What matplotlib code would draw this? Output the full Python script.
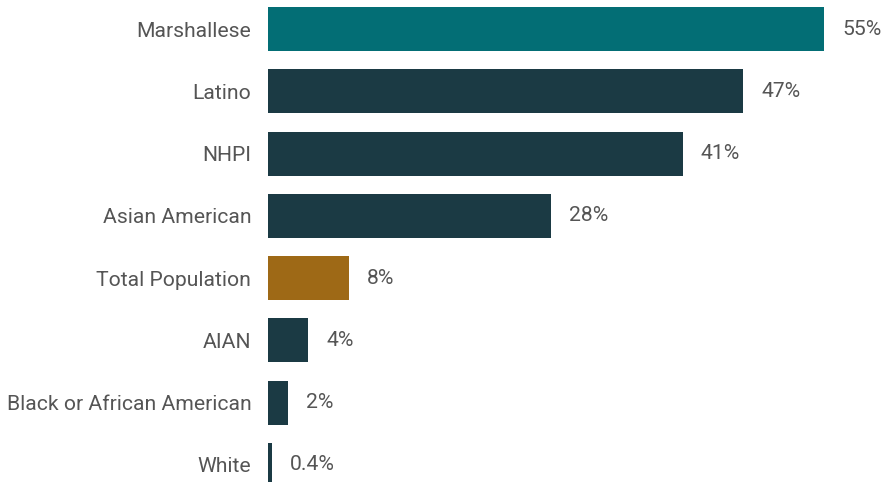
"""Horizontal bar chart: share by population group."""

import matplotlib.pyplot as plt

groups = [
    "Marshallese",
    "Latino",
    "NHPI",
    "Asian American",
    "Total Population",
    "AIAN",
    "Black or African American",
    "White",
]
values = [55, 47, 41, 28, 8, 4, 2, 0.4]
value_labels = ["55%", "47%", "41%", "28%", "8%", "4%", "2%", "0.4%"]

TEAL = "#036e75"
DARK = "#1b3a44"
GOLD = "#9e6916"
TEXT = "#555555"
bar_colors = [TEAL, DARK, DARK, DARK, GOLD, DARK, DARK, DARK]

plt.rcParams["font.family"] = ["Roboto", "DejaVu Sans"]

fig = plt.figure(figsize=(8.85, 4.82), dpi=100)
ax = fig.add_axes([268 / 885, 0, 1 - 268 / 885, 1])

pos = range(len(groups))
ax.barh(pos, values, height=0.706, color=bar_colors)
for y, v, lab in zip(pos, values, value_labels):
    ax.annotate(lab, (v, y), xytext=(13, 0), textcoords="offset points",
                va="center", ha="left", fontsize=15.2, color=TEXT)

ax.set_yticks(list(pos))
ax.set_yticklabels(groups, fontsize=15.2, color=TEXT)
ax.tick_params(axis="y", length=0, pad=12)
ax.set_xticks([])
ax.set_xlim(0, 61.03)
ax.set_ylim(7.273, -0.466)
for s in ax.spines.values():
    s.set_visible(False)

fig.savefig("out.png", dpi=100)
